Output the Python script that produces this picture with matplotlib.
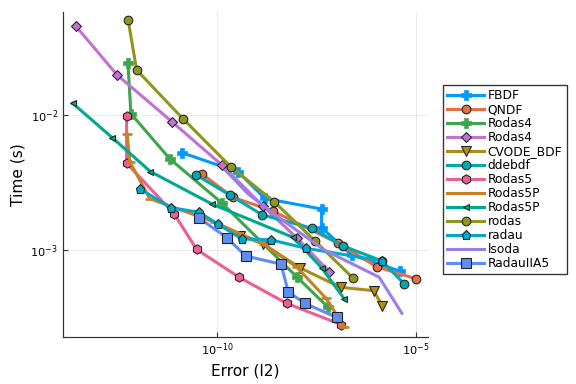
import numpy as np
import matplotlib
matplotlib.use("Agg")
import matplotlib.pyplot as plt
from matplotlib.ticker import FixedLocator, NullLocator, LogFormatterMathtext

# (error, time) pairs, one pair of lists per solver
fbdf_err = [1.27e-11, 3.38e-10, 1.59e-9, 4.27e-8, 4.27e-8, 2.47e-7, 4.0e-6]
fbdf_t = [5.26e-3, 3.78e-3, 2.41e-3, 2.01e-3, 1.46e-3, 9.18e-4, 6.99e-4]

qndf_err = [4.19e-11, 2.53e-10, 2.48e-9, 1.12e-7, 1.04e-6, 1.01e-5]
qndf_t = [3.64e-3, 2.45e-3, 1.95e-3, 1.12e-3, 7.52e-4, 6.13e-4]

rodas4g_err = [5.64e-13, 6.70e-13, 6.44e-12, 1.31e-10, 1.02e-8, 6.14e-8]
rodas4g_t = [2.43e-2, 1.02e-2, 4.72e-3, 2.23e-3, 6.31e-4, 3.78e-4]

rodas4p_err = [2.71e-14, 3.03e-13, 7.23e-12, 1.34e-10, 1.39e-9, 1.04e-8, 6.62e-8]
rodas4p_t = [4.56e-2, 1.97e-2, 8.91e-3, 4.23e-3, 2.13e-3, 1.22e-3, 6.93e-4]

cvode_err = [3.73e-10, 1.44e-9, 1.21e-8, 1.28e-7, 8.85e-7, 1.43e-6]
cvode_t = [1.28e-3, 1.11e-3, 7.39e-4, 5.30e-4, 5.0e-4, 3.85e-4]

ddebdf_err = [2.86e-11, 2.09e-10, 1.36e-9, 2.39e-8, 1.49e-7, 1.38e-6, 5.05e-6]
ddebdf_t = [3.61e-3, 2.55e-3, 1.82e-3, 1.45e-3, 1.07e-3, 8.33e-4, 5.65e-4]

rodas5_err = [5.22e-13, 5.22e-13, 8.26e-12, 3.03e-11, 3.58e-10, 5.6e-9, 1.31e-7]
rodas5_t = [9.88e-3, 4.39e-3, 1.85e-3, 1.01e-3, 6.28e-4, 4.03e-4, 2.81e-4]

rodas5pa_err = [5.4e-13, 6.3e-13, 2.0e-12, 9.0e-11, 1.5e-9, 1.0e-8, 5.5e-8, 1.6e-7]
rodas5pa_t = [7.2e-3, 4.5e-3, 2.4e-3, 1.6e-3, 1.1e-3, 7.5e-4, 4.4e-4, 2.7e-4]

rodas5pb_err = [2.28e-14, 2.26e-13, 2.07e-12, 7.57e-11, 8.2e-9, 4.27e-8, 1.58e-7]
rodas5pb_t = [1.22e-2, 6.79e-3, 3.81e-3, 2.18e-3, 1.24e-3, 7.39e-4, 4.36e-4]

rodas_err = [5.73e-13, 9.33e-13, 1.39e-11, 2.25e-10, 2.73e-9, 2.89e-8, 2.67e-7]
rodas_t = [5.0e-2, 2.15e-2, 9.33e-3, 4.10e-3, 2.28e-3, 1.17e-3, 6.17e-4]

radau_err = [1.13e-12, 6.83e-12, 3.52e-11, 1.06e-10, 4.12e-10, 2.25e-9, 1.71e-8, 1.38e-6]
radau_t = [2.83e-3, 2.06e-3, 1.90e-3, 1.55e-3, 1.21e-3, 1.19e-3, 1.03e-3, 8.33e-4]

lsoda_err = [1.6e-10, 6.0e-10, 4.0e-9, 5.0e-8, 1.2e-6, 4.5e-6]
lsoda_t = [3.9e-3, 2.6e-3, 1.7e-3, 1.0e-3, 6.3e-4, 3.4e-4]

radauiia5_err = [3.52e-11, 1.79e-10, 5.19e-10, 4.03e-9, 6.21e-9, 1.62e-8, 1.02e-7]
radauiia5_t = [1.72e-3, 1.23e-3, 9.03e-4, 7.87e-4, 4.89e-4, 4.03e-4, 3.17e-4]

labels = ["FBDF", "QNDF", "Rodas4", "Rodas4", "CVODE_BDF", "ddebdf", "Rodas5",
          "Rodas5P", "Rodas5P", "rodas", "radau", "lsoda", "RadauIIA5"]

series = [
    (fbdf_err, fbdf_t, "#009AFA", "P", 7),
    (qndf_err, qndf_t, "#E26F46", "o", 6.5),
    (rodas4g_err, rodas4g_t, "#3EA44E", "P", 7),
    (rodas4p_err, rodas4p_t, "#C271D2", "D", 5.5),
    (cvode_err, cvode_t, "#AC8D18", "v", 7),
    (ddebdf_err, ddebdf_t, "#00A9AD", "o", 6.5),
    (rodas5_err, rodas5_t, "#ED5E93", "h", 7),
    (rodas5pa_err, rodas5pa_t, "#C68125", "_", 7),
    (rodas5pb_err, rodas5pb_t, "#00A98D", "<", 4.5),
    (rodas_err, rodas_t, "#8E971D", "o", 6.5),
    (radau_err, radau_t, "#00A8CB", "p", 7),
    (lsoda_err, lsoda_t, "#9B7FE8", None, 0),
    (radauiia5_err, radauiia5_t, "#608CF6", "s", 7),
]

fig = plt.figure(figsize=(6, 4), dpi=96)
ax = fig.add_axes([0.109, 0.123, 0.634, 0.847])

for (x, y, c, m, ms), lab in zip(series, labels):
    if m is None:
        ax.plot(x, y, color=c, lw=2.3, label=lab)
    elif m in ("P", "_"):
        ax.plot(x, y, color=c, lw=2.3, marker=m, ms=ms, mec=c, mew=2 if m == "_" else 0.5, label=lab)
    else:
        ax.plot(x, y, color=c, lw=2.3, marker=m, ms=ms, mec="#222222", mew=0.8, label=lab)

ax.set_xscale("log")
ax.set_yscale("log")
ax.set_xlim(10**-13.89, 10**-4.69)
ax.set_ylim(10**-3.642, 10**-1.235)

ax.xaxis.set_major_locator(FixedLocator([1e-10, 1e-5]))
ax.yaxis.set_major_locator(FixedLocator([1e-3, 1e-2]))
ax.xaxis.set_major_formatter(LogFormatterMathtext())
ax.yaxis.set_major_formatter(LogFormatterMathtext())
ax.xaxis.set_minor_locator(NullLocator())
ax.yaxis.set_minor_locator(NullLocator())

ax.spines["top"].set_visible(False)
ax.spines["right"].set_visible(False)
for s in ("left", "bottom"):
    ax.spines[s].set_color("#333333")
    ax.spines[s].set_linewidth(0.9)
ax.tick_params(direction="in", length=4, width=0.8, labelsize=8.5, colors="#333333", labelcolor="black")
ax.grid(True, color="black", alpha=0.08, lw=0.8)

ax.set_xlabel("Error (l2)", fontsize=11.5)
ax.set_ylabel("Time (s)", fontsize=11.5)

fig.legend(loc="upper left", bbox_to_anchor=(443 / 576, 1 - 85 / 384), fontsize=9.2,
           frameon=True, fancybox=False, edgecolor="#333333", framealpha=1,
           handlelength=3.0, labelspacing=0.08, borderpad=0.35, handletextpad=0.3,
           borderaxespad=0)

fig.savefig("out.png", dpi=96)
